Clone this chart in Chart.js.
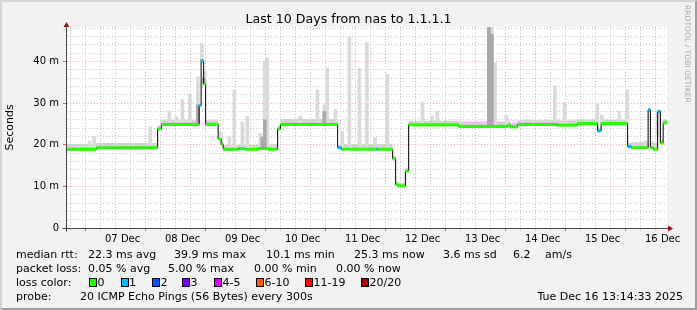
<!DOCTYPE html>
<html lang="en">
<head>
<meta charset="UTF-8" />
<title>Last 10 Days from nas to 1.1.1.1</title>
<script src="https://cdn.jsdelivr.net/npm/chart.js"></script>
<style>
  body { margin: 0; font-family: "DejaVu Sans", sans-serif; }
  #graph { position: relative; width: 697px; height: 310px; background: #f2f2f2; overflow: hidden; }
  #graph canvas { position: absolute; left: 0; top: 0; }
  .frame { position: absolute; left: 0; top: 0; width: 697px; height: 310px; box-sizing: border-box;
           border: 2px solid; border-color: #d4d4d4 #9e9e9e #9e9e9e #d4d4d4; pointer-events: none; }
  .title { position: absolute; left: 0; top: 11px; width: 697px; text-align: center; font-size: 12.6px; line-height: 15px; color: #000; }
  .mark { position: absolute; left: 683px; top: 5px; writing-mode: vertical-rl; font-size: 7.6px; color: #aaa; }
  .t { position: absolute; font-size: 11px; line-height: 13px; white-space: pre; color: #000; }
  .box { position: absolute; top: 278px; width: 6px; height: 7px; border: 1px solid #000; }
</style>
</head>
<body>
<div id="graph">
  <canvas id="chart" width="697" height="310"></canvas>
  <div class="title">Last 10 Days from nas to 1.1.1.1</div>
  <div class="mark">RRDTOOL / TOBI OETIKER</div>

  <span class="t" style="left:16px;top:248px">median rtt:</span>
  <span class="t" style="left:88px;top:248px">22.3 ms avg</span>
  <span class="t" style="left:174px;top:248px">39.9 ms max</span>
  <span class="t" style="left:266px;top:248px">10.1 ms min</span>
  <span class="t" style="left:354px;top:248px">25.3 ms now</span>
  <span class="t" style="left:443px;top:248px">3.6 ms sd</span>
  <span class="t" style="left:513px;top:248px">6.2</span>
  <span class="t" style="left:545px;top:248px">am/s</span>

  <span class="t" style="left:16px;top:262px">packet loss:</span>
  <span class="t" style="left:88px;top:262px">0.05 % avg</span>
  <span class="t" style="left:168px;top:262px">5.00 % max</span>
  <span class="t" style="left:254px;top:262px">0.00 % min</span>
  <span class="t" style="left:336px;top:262px">0.00 % now</span>

  <span class="t" style="left:16px;top:276px">loss color:</span>
  <div id="lossLegend"></div>

  <span class="t" style="left:16px;top:290px">probe:</span>
  <span class="t" style="left:80px;top:290px">20 ICMP Echo Pings (56 Bytes) every 300s</span>
  <span class="t" style="right:14px;top:290px">Tue Dec 16 13:14:33 2025</span>

  <div class="frame"></div>
</div>

<script>
  // time axis: hours relative to 07 Dec 00:00
  const startHour = -10.25;
  const endHour = 229.75;
  const dayLabels = ['07 Dec', '08 Dec', '09 Dec', '10 Dec', '11 Dec', '12 Dec', '13 Dec', '14 Dec', '15 Dec', '16 Dec'];

  // median rtt (ms), step changes
  const stepHours = [-10.25, 1.5, 26.0, 27.5, 42.6, 43.4, 44.4, 45.2, 50.2, 51.4, 52.2, 58.3, 60.7, 66.3, 70.3,
    74.0, 75.1, 98.0, 99.5, 113.5, 114.1, 120.0, 121.2, 122.3, 125.1, 126.4, 146.3, 165.9, 167.1, 169.9,
    185.5, 193.9, 202.0, 203.4, 214.0, 215.4, 222.2, 223.1, 224.3, 226.0, 227.1, 228.2];
  const medianMs = [18.9, 19.3, 23.8, 24.9, 29.4, 40.1, 34.6, 24.9, 21.4, 20.1, 18.9, 19.1, 18.9, 19.1, 18.9,
    23.8, 24.9, 19.3, 18.9, 18.9, 18.9, 16.6, 10.4, 10.1, 13.7, 24.8, 24.4, 24.7, 24.3, 24.9,
    24.7, 25.1, 23.3, 25.1, 19.6, 19.3, 28.4, 19.3, 18.9, 28.0, 20.4, 25.3];
  const lossCount = [0, 0, 0, 0, 1, 1, 0, 0, 0, 0, 0, 0, 0, 0, 0,
    0, 0, 1, 0, 1, 0, 0, 0, 0, 0, 0, 0, 0, 0, 0,
    0, 0, 1, 0, 1, 0, 1, 0, 0, 1, 0, 0];
  // upper edge of the dense smoke band (ms)
  const smokeTopMs = [20.2, 20.4, 24.6, 25.9, 29.8, 40.6, 35.2, 25.9, 22.4, 20.9, 19.9, 20.1, 20.0, 20.3, 20.1,
    24.5, 26.2, 20.0, 20.2, 20.2, 20.2, 17.4, 11.2, 10.9, 14.4, 25.8, 25.6, 25.8, 25.3, 25.9,
    25.9, 26.1, 24.2, 26.0, 20.4, 20.6, 28.8, 20.6, 20.4, 28.5, 21.2, 26.1];

  // individual smoke spikes [hour, max ms]
  const lightSpikes = [[-1.2, 20.9], [0.6, 22.0], [23.1, 24.4], [30.7, 28.1], [33.5, 26.8], [35.9, 30.8],
    [38.9, 32.1], [42.1, 36.4], [43.7, 44.4], [44.9, 37.6], [51.1, 23.2], [54.7, 22.0], [56.7, 33.2],
    [59.9, 25.5], [61.9, 26.8], [67.1, 22.7], [68.9, 40.1], [69.9, 40.8], [83.1, 26.9], [89.9, 33.2],
    [92.7, 29.6], [93.9, 38.4], [97.1, 28.5], [99.9, 23.3], [102.7, 46.0], [106.7, 38.4], [109.7, 44.6],
    [112.9, 21.7], [117.9, 36.9], [131.9, 30.2], [135.9, 26.9], [137.9, 28.1], [158.5, 48.3], [159.7, 48.3],
    [160.9, 39.7], [165.5, 27.0], [184.9, 34.1], [188.9, 30.2], [201.9, 29.8], [203.7, 27.2], [210.7, 28.1],
    [213.9, 33.2], [221.1, 21.0], [226.1, 22.3]];
  const darkSpikes = [[42.1, 29.6], [43.7, 40.5], [44.5, 36.0], [67.9, 21.8], [68.9, 26.0], [92.7, 28.0],
    [158.5, 48.3], [159.7, 46.5]];

  const lossColors = ['#26ff00', '#00b8ff', '#0059ff', '#7e00ff', '#dd00ff', '#ff5e00', '#ff0000', '#a10000'];
  const lossLabels = ['0', '1', '2', '3', '4-5', '6-10', '11-19', '20/20'];

  // legend swatches
  const swatchX = [89, 120.5, 152, 182, 214, 256, 305, 361];
  const legendEl = document.getElementById('lossLegend');
  lossLabels.forEach((lab, i) => {
    legendEl.innerHTML += `<div class="box" style="left:${swatchX[i]}px;background:${lossColors[i]}"></div>` +
      `<span class="t" style="left:${swatchX[i] + 8.5}px;top:276px">${lab}</span>`;
  });

  function medianAt(t) {
    let v = medianMs[0];
    stepHours.forEach((h, i) => { if (h <= t) v = medianMs[i]; });
    return v;
  }

  function stepPoints(values) {
    const pts = stepHours.map((t, i) => ({ x: t, y: values[i] }));
    pts.push({ x: endHour, y: values[values.length - 1] });
    return pts;
  }

  const lossSegments = [];
  stepHours.forEach((t, i) => {
    const next = i + 1 < stepHours.length ? stepHours[i + 1] : endHour;
    lossSegments.push({ x: t, y: medianMs[i] }, { x: next, y: medianMs[i] }, { x: next, y: null });
  });

  const spikeBars = list => list.map(([t, top]) => ({ x: t, y: [medianAt(t), top] }));

  const majorGrid = 'rgba(235, 90, 90, 0.5)';
  const minorGrid = 'rgba(130, 130, 130, 0.45)';
  const isDay = c => c.tick && c.tick.value % 24 === 0;
  const isTen = c => c.tick && c.tick.value % 10 === 0;

  // white plot area + axes with arrows, rrdtool style
  const rrdFrame = {
    id: 'rrdFrame',
    beforeDraw(chart) {
      const { ctx, chartArea: a } = chart;
      ctx.save();
      ctx.fillStyle = '#ffffff';
      ctx.fillRect(a.left, a.top, a.right - a.left, a.bottom - a.top);
      ctx.restore();
    },
    afterDraw(chart) {
      const { ctx, chartArea: a } = chart;
      const x0 = Math.round(a.left) - 0.5, y0 = Math.round(a.bottom) + 0.5;
      ctx.save();
      ctx.strokeStyle = '#444';
      ctx.lineWidth = 1;
      ctx.beginPath();
      ctx.moveTo(x0, y0 + 3); ctx.lineTo(x0, a.top - 2);
      ctx.moveTo(x0 - 4, y0); ctx.lineTo(a.right + 2, y0);
      ctx.stroke();
      ctx.fillStyle = '#9b1414';
      ctx.beginPath();
      ctx.moveTo(x0 - 3, a.top); ctx.lineTo(x0 + 3, a.top); ctx.lineTo(x0, a.top - 5); ctx.closePath();
      ctx.fill();
      ctx.beginPath();
      ctx.moveTo(a.right + 1, y0 - 3); ctx.lineTo(a.right + 1, y0 + 3); ctx.lineTo(a.right + 6, y0); ctx.closePath();
      ctx.fill();
      ctx.restore();
    }
  };

  Chart.defaults.font.family = '"DejaVu Sans", sans-serif';

  new Chart(document.getElementById('chart'), {
    type: 'line',
    data: {
      datasets: [
        {
          label: 'median by loss',
          data: lossSegments,
          borderWidth: 3,
          borderCapStyle: 'butt',
          pointRadius: 0,
          spanGaps: false,
          segment: { borderColor: c => lossColors[lossCount[Math.floor(c.p0DataIndex / 3)]] }
        },
        {
          label: 'median',
          data: stepPoints(medianMs),
          stepped: 'before',
          borderColor: '#000',
          borderWidth: 1,
          pointRadius: 0
        },
        {
          type: 'bar',
          label: 'dense smoke',
          data: spikeBars(darkSpikes),
          backgroundColor: '#a9a9a9',
          barThickness: 3,
          grouped: false
        },
        {
          type: 'bar',
          label: 'smoke',
          data: spikeBars(lightSpikes),
          backgroundColor: '#dadada',
          barThickness: 3,
          grouped: false
        },
        {
          label: 'smoke band',
          data: stepPoints(smokeTopMs),
          stepped: 'before',
          borderWidth: 0,
          borderColor: 'rgba(0,0,0,0)',
          backgroundColor: '#d2d2d2',
          pointRadius: 0,
          fill: 1
        }
      ]
    },
    options: {
      responsive: false,
      animation: false,
      events: [],
      layout: { padding: { top: 27, right: 30, bottom: 62, left: 0 } },
      plugins: { legend: { display: false }, tooltip: { enabled: false } },
      scales: {
        x: {
          type: 'linear',
          min: startHour,
          max: endHour,
          offset: false,
          afterBuildTicks: s => {
            s.ticks = [];
            for (let v = -6; v <= endHour; v += 6) s.ticks.push({ value: v });
          },
          afterFit: s => { s.height = 20; },
          grid: {
            color: c => isDay(c) ? majorGrid : minorGrid,
            tickLength: 3,
            tickColor: c => isDay(c) ? '#e06060' : '#cccccc'
          },
          border: { display: false, dash: [1, 2], color: '#000' },
          ticks: {
            autoSkip: false,
            maxRotation: 0,
            padding: 2,
            color: '#000',
            font: { size: 10 },
            callback: v => ((v % 24) + 24) % 24 === 12 ? dayLabels[(v - 12) / 24] : ''
          }
        },
        y: {
          min: 0,
          max: 48.3,
          afterBuildTicks: s => {
            s.ticks = [];
            for (let v = 0; v <= 48; v += 2) s.ticks.push({ value: v });
          },
          afterFit: s => { s.width = 67; },
          grid: {
            color: c => isTen(c) ? majorGrid : minorGrid,
            tickLength: 4,
            tickColor: c => isTen(c) ? '#e06060' : 'rgba(0,0,0,0)'
          },
          border: { display: false, dash: [1, 2], color: '#000' },
          ticks: {
            autoSkip: false,
            padding: 4,
            color: '#000',
            font: { size: 10 },
            callback: v => v % 10 === 0 ? (v === 0 ? '0' : v + ' m') : ''
          },
          title: { display: true, text: 'Seconds', color: '#000', font: { size: 11 } }
        }
      }
    },
    plugins: [rrdFrame]
  });
</script>
</body>
</html>
